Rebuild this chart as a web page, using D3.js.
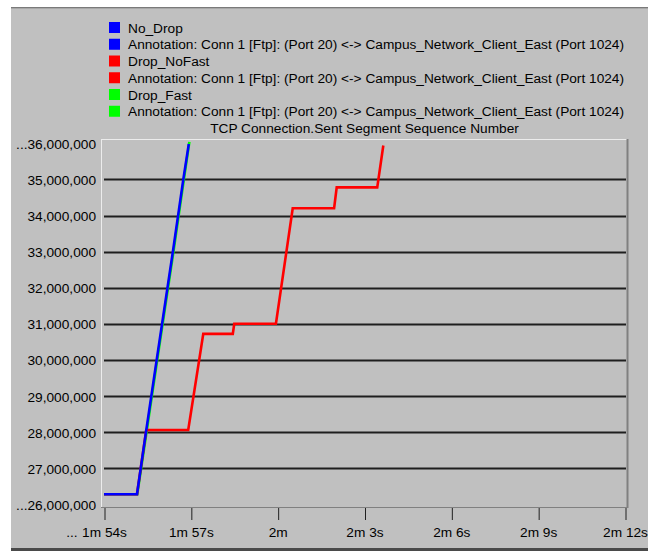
<!DOCTYPE html>
<html>
<head>
<meta charset="utf-8">
<script src="https://cdn.jsdelivr.net/npm/d3@7"></script>
<style>
  html, body { margin: 0; padding: 0; background: #ffffff; }
  svg { display: block; }
  text { font-family: "Liberation Sans", Arial, sans-serif; font-size: 13.7px; fill: #000; }
</style>
</head>
<body>
<svg id="chart" width="654" height="551"></svg>
<script>
// Sent segment sequence number over simulation time (seconds), one series per scenario
const noDropTime   = [114.0, 115.14, 115.45, 115.82, 116.38, 116.74, 116.93];
const noDropSeq    = [26280000, 26280000, 28000000, 30000000, 33000000, 35000000, 35980000];

const dropNoFastTime = [114.0, 115.14, 115.46, 116.91, 117.43, 118.45, 118.50, 119.94, 120.52, 121.95, 122.04, 123.44, 123.65];
const dropNoFastSeq  = [26280000, 26280000, 28060000, 28060000, 30720000, 30720000, 31000000, 31000000, 34200000, 34200000, 34780000, 34780000, 35940000];

const dropFastTime = [114.0, 115.15, 115.47, 115.84, 116.40, 116.76, 116.95];
const dropFastSeq  = [26280000, 26280000, 28000000, 30000000, 33000000, 35000000, 36040000];

const legendLabels = [
  "No_Drop",
  "Annotation: Conn 1 [Ftp]: (Port 20) <-> Campus_Network_Client_East (Port 1024)",
  "Drop_NoFast",
  "Annotation: Conn 1 [Ftp]: (Port 20) <-> Campus_Network_Client_East (Port 1024)",
  "Drop_Fast",
  "Annotation: Conn 1 [Ftp]: (Port 20) <-> Campus_Network_Client_East (Port 1024)"
];
const legendColors = ["#0000ff", "#0000ff", "#ff0000", "#ff0000", "#00ff00", "#00ff00"];
const chartTitle = "TCP Connection.Sent Segment Sequence Number";

const xTickValues = [114, 117, 120, 123, 126, 129, 132];
const yTickValues = [26000000, 27000000, 28000000, 29000000, 30000000, 31000000, 32000000, 33000000, 34000000, 35000000, 36000000];

const svg = d3.select("#chart");

// Window panel
svg.append("rect").attr("x", 11).attr("y", 8).attr("width", 637).attr("height", 541).attr("fill", "#c0c0c0");
svg.append("line").attr("x1", 11).attr("x2", 648).attr("y1", 7.5).attr("y2", 7.5).attr("stroke", "#7a7a7a");
svg.append("line").attr("x1", 11).attr("x2", 648).attr("y1", 8.5).attr("y2", 8.5).attr("stroke", "#a8a8a8");
svg.append("rect").attr("x", 11).attr("y", 548).attr("width", 637).attr("height", 3).attr("fill", "#4a4a4a");

// Plot frame
const plot = { left: 101, top: 139, right: 628, bottom: 508 };

const x = d3.scaleLinear().domain([114, 132]).range([104, 625]);
const y = d3.scaleLinear().domain([26000000, 36000000]).range([504.3, 143.3]);

// Legend
const legend = svg.append("g");
legendLabels.forEach((lab, i) => {
  const cy = 27.5 + i * 16.75;
  legend.append("rect").attr("x", 109).attr("y", cy - 5.5).attr("width", 11).attr("height", 11).attr("fill", legendColors[i]);
  legend.append("text").attr("x", 128).attr("y", cy + 5).text(lab);
});
svg.append("text").attr("x", (plot.left + plot.right) / 2).attr("y", 27.5 + 6 * 16.75 + 5)
  .attr("text-anchor", "middle").text(chartTitle);

// Gridlines
svg.append("g").selectAll("line")
  .data(yTickValues.filter(v => v > 26000000 && v < 36000000))
  .join("line")
  .attr("x1", 104).attr("x2", 626)
  .attr("y1", d => Math.round(y(d)) + 0.5).attr("y2", d => Math.round(y(d)) + 0.5)
  .attr("stroke", "#1e1e1e").attr("stroke-width", 2);

// Frame edges: light top/left, dark bottom/right
svg.append("line").attr("x1", plot.left).attr("x2", plot.right).attr("y1", plot.top + 0.5).attr("y2", plot.top + 0.5).attr("stroke", "#ececec");
svg.append("line").attr("x1", plot.left + 0.5).attr("x2", plot.left + 0.5).attr("y1", plot.top).attr("y2", plot.bottom).attr("stroke", "#ececec");
svg.append("line").attr("x1", plot.right - 0.5).attr("x2", plot.right - 0.5).attr("y1", plot.top).attr("y2", plot.bottom).attr("stroke", "#808080").attr("stroke-width", 2);
svg.append("line").attr("x1", plot.left).attr("x2", plot.right).attr("y1", plot.bottom - 0.5).attr("y2", plot.bottom - 0.5).attr("stroke", "#808080");

// Series lines
svg.append("clipPath").attr("id", "plotClip").append("rect")
  .attr("x", plot.left + 1).attr("y", plot.top + 1)
  .attr("width", plot.right - plot.left - 2).attr("height", plot.bottom - plot.top - 2);

const line = d3.line().x(d => x(d[0])).y(d => y(d[1]));
const series = [
  { t: dropFastTime, v: dropFastSeq, color: "#00ff00" },
  { t: dropNoFastTime, v: dropNoFastSeq, color: "#ff0000" },
  { t: noDropTime, v: noDropSeq, color: "#0000ff" }
];
const lines = svg.append("g").attr("clip-path", "url(#plotClip)");
series.forEach(s => {
  lines.append("path")
    .datum(s.t.map((t, i) => [t, s.v[i]]))
    .attr("d", line)
    .attr("fill", "none")
    .attr("stroke", s.color)
    .attr("stroke-width", 2.6)
    .attr("stroke-linejoin", "miter");
});

// Y axis labels
const fmtY = d3.format(",");
const yAxis = d3.axisLeft(y).tickValues(yTickValues).tickSize(0).tickPadding(0)
  .tickFormat(d => (d === 26000000 || d === 36000000 ? "..." : "") + fmtY(d));
const gy = svg.append("g").attr("transform", "translate(96,0)").call(yAxis);
gy.select(".domain").remove();
gy.attr("font-family", null).attr("font-size", null);
gy.selectAll("text").attr("dy", null).attr("y", 5);

// X axis ticks and labels
const fmtX = s => {
  const m = Math.floor(s / 60), r = Math.round(s - m * 60);
  return r === 0 ? `${m}m` : `${m}m ${r}s`;
};
const xAxis = d3.axisBottom(x).tickValues(xTickValues).tickSize(12).tickPadding(0).tickFormat(fmtX);
const gx = svg.append("g").attr("transform", `translate(0,${plot.bottom})`).call(xAxis);
gx.select(".domain").remove();
gx.attr("font-family", null).attr("font-size", null);
gx.selectAll("line").attr("stroke", "#202020").attr("transform", "translate(0.5,0)");
gx.selectAll("text").attr("dy", null).attr("y", 29);

// Leading ellipsis on the first time label
const firstTick = gx.select(".tick text");
const w = firstTick.node().getComputedTextLength();
gx.append("text").attr("x", x(114) - w / 2 - 4).attr("y", 29).attr("text-anchor", "end").text("...");
</script>
</body>
</html>
